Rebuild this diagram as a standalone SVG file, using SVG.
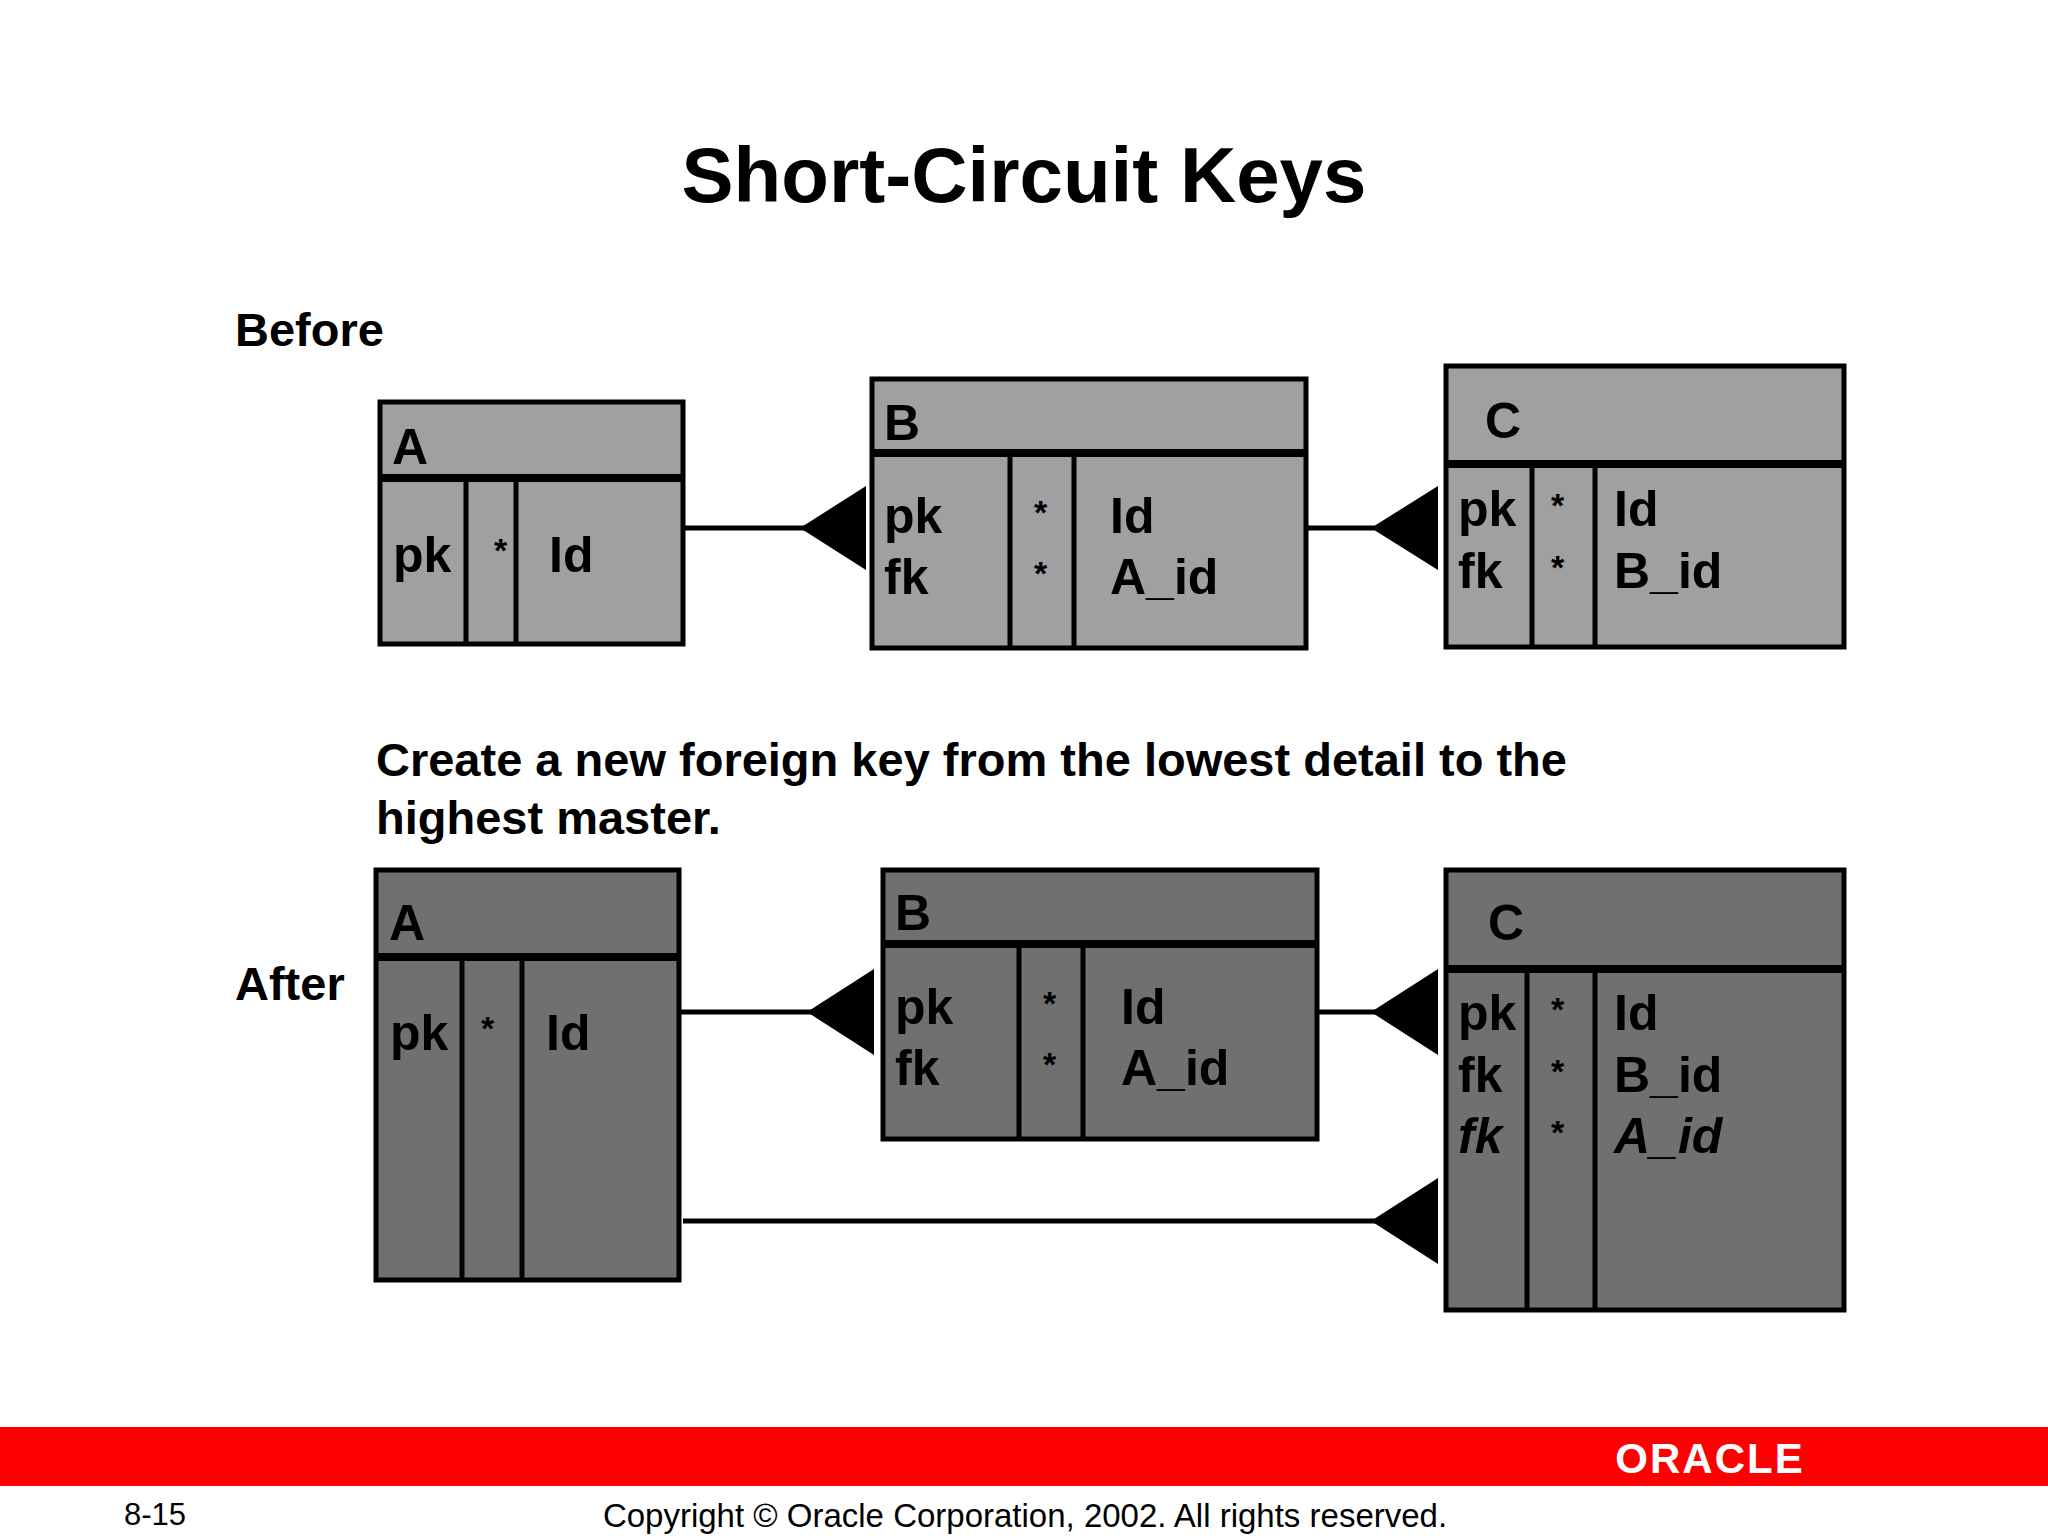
<svg xmlns="http://www.w3.org/2000/svg" width="2048" height="1536" viewBox="0 0 2048 1536">
<style>
text{font-family:"Liberation Sans",Arial,sans-serif;font-weight:bold;fill:#000}
.t{font-size:50px}
.s{font-size:34px}
.b1{fill:#a0a0a0;stroke:#000;stroke-width:5}
.b2{fill:#707070;stroke:#000;stroke-width:5}
.h{stroke:#000;stroke-width:8}
.c{stroke:#000;stroke-width:5}
.ln{stroke:#000;stroke-width:5;fill:none}
.i{font-style:italic}
</style>
<rect width="2048" height="1536" fill="#fff"/>
<text x="1024" y="202" font-size="78" text-anchor="middle">Short-Circuit Keys</text>
<text x="235" y="346" font-size="47">Before</text>
<text x="376" y="776" font-size="47">Create a new foreign key from the lowest detail to the</text>
<text x="376" y="834" font-size="47">highest master.</text>
<text x="235" y="1000" font-size="47">After</text>

<g id="A1"><rect class="b1" x="380" y="402" width="303" height="242"/><line class="h" x1="380" y1="478" x2="683" y2="478"/><line class="c" x1="466" y1="478" x2="466" y2="644"/><line class="c" x1="516" y1="478" x2="516" y2="644"/>
<text class="t" x="392" y="464">A</text><text class="t" x="393" y="572">pk</text><text class="s" x="494" y="562">*</text><text class="t" x="549" y="572">Id</text></g>
<g id="B1"><rect class="b1" x="872" y="379" width="434" height="269"/><line class="h" x1="872" y1="453" x2="1306" y2="453"/><line class="c" x1="1010" y1="453" x2="1010" y2="648"/><line class="c" x1="1074" y1="453" x2="1074" y2="648"/>
<text class="t" x="884" y="440">B</text><text class="t" x="884" y="533">pk</text><text class="t" x="884" y="594">fk</text><text class="s" x="1034" y="524">*</text><text class="s" x="1034" y="585">*</text><text class="t" x="1110" y="533">Id</text><text class="t" x="1110" y="594">A_id</text></g>
<g id="C1"><rect class="b1" x="1446" y="366" width="398" height="281"/><line class="h" x1="1446" y1="464" x2="1844" y2="464"/><line class="c" x1="1532" y1="464" x2="1532" y2="647"/><line class="c" x1="1595" y1="464" x2="1595" y2="647"/>
<text class="t" x="1485" y="438">C</text><text class="t" x="1458" y="526">pk</text><text class="t" x="1458" y="588">fk</text><text class="s" x="1551" y="517">*</text><text class="s" x="1551" y="579">*</text><text class="t" x="1614" y="526">Id</text><text class="t" x="1614" y="588">B_id</text></g>

<g id="A2"><rect class="b2" x="376" y="870" width="303" height="410"/><line class="h" x1="376" y1="957" x2="679" y2="957"/><line class="c" x1="462" y1="957" x2="462" y2="1280"/><line class="c" x1="522" y1="957" x2="522" y2="1280"/>
<text class="t" x="389" y="940">A</text><text class="t" x="390" y="1050">pk</text><text class="s" x="481" y="1040">*</text><text class="t" x="546" y="1050">Id</text></g>
<g id="B2"><rect class="b2" x="883" y="870" width="434" height="269"/><line class="h" x1="883" y1="944" x2="1317" y2="944"/><line class="c" x1="1019" y1="944" x2="1019" y2="1139"/><line class="c" x1="1083" y1="944" x2="1083" y2="1139"/>
<text class="t" x="895" y="930">B</text><text class="t" x="895" y="1024">pk</text><text class="t" x="895" y="1085">fk</text><text class="s" x="1043" y="1015">*</text><text class="s" x="1043" y="1076">*</text><text class="t" x="1121" y="1024">Id</text><text class="t" x="1121" y="1085">A_id</text></g>
<g id="C2"><rect class="b2" x="1446" y="870" width="398" height="440"/><line class="h" x1="1446" y1="969" x2="1844" y2="969"/><line class="c" x1="1527" y1="969" x2="1527" y2="1310"/><line class="c" x1="1595" y1="969" x2="1595" y2="1310"/>
<text class="t" x="1488" y="940">C</text><text class="t" x="1458" y="1030">pk</text><text class="t" x="1458" y="1092">fk</text><text class="t i" x="1458" y="1153">fk</text><text class="s" x="1551" y="1021">*</text><text class="s" x="1551" y="1083">*</text><text class="s" x="1551" y="1144">*</text><text class="t" x="1614" y="1030">Id</text><text class="t" x="1614" y="1092">B_id</text><text class="t i" x="1614" y="1153">A_id</text></g>

<g id="connectors">
<line class="ln" x1="683" y1="528" x2="805" y2="528"/><polygon points="800,528 866,486 866,570"/>
<line class="ln" x1="1306" y1="528" x2="1376" y2="528"/><polygon points="1371,528 1438,486 1438,570"/>
<line class="ln" x1="679" y1="1012" x2="812" y2="1012"/><polygon points="807,1012 874,969 874,1055"/>
<line class="ln" x1="1317" y1="1012" x2="1376" y2="1012"/><polygon points="1371,1012 1438,969 1438,1055"/>
<line class="ln" x1="683" y1="1221" x2="1376" y2="1221"/><polygon points="1371,1221 1438,1178 1438,1264"/>
</g>

<rect x="0" y="1427" width="2048" height="59" fill="#ff0000"/>
<text x="1710" y="1473" font-size="42" text-anchor="middle" style="fill:#fff;letter-spacing:2px">ORACLE</text>
<text x="124" y="1525" font-size="31" style="font-weight:normal">8-15</text>
<text x="1025" y="1527" font-size="33" text-anchor="middle" style="font-weight:normal">Copyright © Oracle Corporation, 2002. All rights reserved.</text>
</svg>
